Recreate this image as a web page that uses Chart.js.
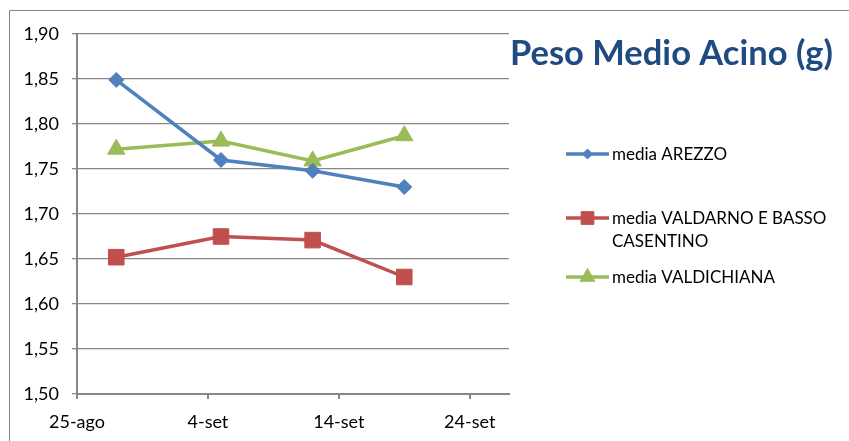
<!DOCTYPE html>
<html><head><meta charset="utf-8">
<script src="https://cdn.jsdelivr.net/npm/chart.js@4/dist/chart.umd.min.js"></script>
<style>html,body{margin:0;padding:0;background:#fff}#wrap{width:849px;height:441px;position:relative}canvas{display:block}</style>
</head><body><div id="wrap"><canvas id="c" width="849" height="441"></canvas></div>
<script>
// ---- data ----
const sampleDates = ['2012-08-28', '2012-09-05', '2012-09-12', '2012-09-19'];
const arezzo      = [1.849, 1.760, 1.748, 1.730];
const valdarno    = [1.652, 1.675, 1.671, 1.630];
const valdichiana = [1.772, 1.781, 1.759, 1.787];
const legendLines = [['media AREZZO'], ['media VALDARNO E BASSO', 'CASENTINO'], ['media VALDICHIANA']];
const tickDates   = ['2012-08-25', '2012-09-04', '2012-09-14', '2012-09-24'];
const tickLabels  = ['25-ago', '4-set', '14-set', '24-set'];
const axisStart   = '2012-08-25';
const axisEnd     = '2012-09-27';
const yMin = 1.50, yMax = 1.90, yStep = 0.05;
const chartTitle  = 'Peso Medio Acino (g)';

const DAY = 86400000;
const dayNum = s => Math.round(Date.parse(s + 'T00:00:00Z') / DAY);
const toPts = vals => vals.map((v, i) => ({x: dayNum(sampleDates[i]), y: v}));
const tickDayNums = tickDates.map(dayNum);

const colors = ['#4F81BD', '#C0504D', '#9BBB59'];
const styles = ['rectRot', 'rect', 'triangle'];
const radii = [7.5, 11, 10];
const legendRadii = [5, 9, 8.5];
const seriesVals = [arezzo, valdarno, valdichiana];

const datasets = seriesVals.map((vals, i) => ({
  label: legendLines[i].join(' '),
  data: toPts(vals),
  borderColor: colors[i],
  backgroundColor: colors[i],
  borderWidth: 3.5,
  pointStyle: styles[i],
  pointRadius: radii[i],
  pointHoverRadius: radii[i],
  pointBorderWidth: 1,
  pointBackgroundColor: colors[i],
  pointBorderColor: colors[i],
  tension: 0
}));

const FONT = 'Lato, "Open Sans", sans-serif';
const GRID = '#878787';

const decorPlugin = {
  id: 'decor',
  beforeDraw(chart) {
    const ctx = chart.ctx;
    ctx.save();
    ctx.fillStyle = '#fff';
    ctx.fillRect(0, 0, chart.width, chart.height);
    ctx.strokeStyle = GRID;
    ctx.lineWidth = 1;
    ctx.beginPath();
    ctx.moveTo(9.5, chart.height);
    ctx.lineTo(9.5, 10.5);
    ctx.lineTo(chart.width, 10.5);
    ctx.stroke();
    ctx.restore();
  },
  afterDraw(chart) {
    const ctx = chart.ctx;
    ctx.save();
    // title
    ctx.fillStyle = '#1F4A82';
    ctx.font = 'bold 34.5px ' + FONT;
    ctx.textAlign = 'center';
    ctx.textBaseline = 'alphabetic';
    ctx.fillText(chartTitle, 671.5, 65);
    // legend
    const rowY = [154, 218, 277];
    chart.data.datasets.forEach((ds, i) => {
      const y = rowY[i];
      ctx.strokeStyle = ds.borderColor;
      ctx.lineWidth = 3.5;
      ctx.beginPath();
      ctx.moveTo(566, y);
      ctx.lineTo(609, y);
      ctx.stroke();
      ctx.fillStyle = ds.borderColor;
      ctx.strokeStyle = ds.borderColor;
      ctx.lineWidth = 1;
      Chart.helpers.drawPoint(ctx, {pointStyle: ds.pointStyle, radius: legendRadii[i], rotation: 0, borderWidth: 1}, 587.5, y);
      ctx.fillStyle = '#000';
      ctx.font = '17px ' + FONT;
      ctx.textAlign = 'left';
      ctx.textBaseline = 'alphabetic';
      legendLines[i].forEach((t, k) => ctx.fillText(t, 612, y + 6 + k * 22.7));
    });
    ctx.restore();
  }
};

new Chart(document.getElementById('c'), {
  type: 'line',
  data: {datasets},
  options: {
    responsive: false,
    animation: false,
    events: [],
    layout: {padding: {top: 34, right: 340, bottom: 0, left: 0}},
    plugins: {legend: {display: false}, title: {display: false}, tooltip: {enabled: false}},
    scales: {
      x: {
        type: 'linear',
        min: dayNum(axisStart),
        max: dayNum(axisEnd),
        afterBuildTicks: s => { s.ticks = tickDayNums.map(v => ({value: v})); },
        afterFit: s => { s.height = 47; },
        ticks: {
          autoSkip: false,
          maxRotation: 0,
          padding: 12,
          color: '#000',
          font: {family: FONT, size: 18},
          callback: v => tickLabels[tickDayNums.indexOf(v)]
        },
        grid: {drawOnChartArea: false, drawTicks: true, tickLength: 5, color: GRID, lineWidth: 2},
        border: {color: GRID, width: 2}
      },
      y: {
        min: yMin, max: yMax,
        afterFit: s => { s.width = 77; },
        ticks: {
          stepSize: yStep,
          padding: 13,
          color: '#000',
          font: {family: FONT, size: 18},
          callback: v => v.toFixed(2).replace('.', ',')
        },
        grid: {color: GRID, lineWidth: 1.3, tickLength: 5, drawTicks: true},
        border: {color: GRID, width: 2}
      }
    }
  },
  plugins: [decorPlugin]
});
</script></body></html>
